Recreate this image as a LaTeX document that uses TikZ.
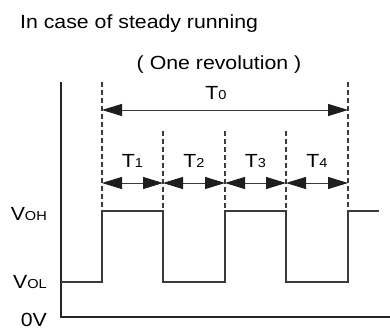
\documentclass[tikz,border=0pt]{standalone}
\usepackage{fontspec}
\setmainfont{Liberation Sans}[FakeStretch=1.12]
\usetikzlibrary{arrows.meta}
\definecolor{ln}{HTML}{3A3A3A}
\definecolor{ar}{HTML}{1E1E1E}
\tikzset{
  lbl/.style={inner sep=0pt, font=\fontsize{19}{22}\selectfont, text=black},
  sigline/.style={draw=ln, line width=1.4pt},
  axisline/.style={draw=black!85, line width=1.2pt},
  guide/.style={draw=ln, line width=1.2pt, dash pattern=on 5pt off 3pt},
  dim/.style={draw=ln, line width=1pt, {Triangle[length=20pt,width=12pt,color=ar]}-{Triangle[length=20pt,width=12pt,color=ar]}},
}
\newcommand{\smsub}[1]{{\fontsize{13}{15}\selectfont #1}}
\begin{document}
\begin{tikzpicture}[x=1pt,y=-1pt]
\useasboundingbox (0,0) rectangle (390,329);
% titles
\node[lbl, anchor=base west] (title) at (20,29) {In case of steady running};
\node[lbl, anchor=base] (rev) at (219,69) {(\kern6pt One revolution\kern6pt)};
% axes
\coordinate (ytop) at (61,82);
\coordinate (origin) at (61,317);
\coordinate (xend) at (390,317);
\draw[axisline] (ytop) -- (origin) -- (xend);
% guide coordinates
\coordinate (atop) at (102,82);  \coordinate (abot) at (102,211); \coordinate (alow) at (102,282); \coordinate (aarr) at (102,183); \coordinate (aT) at (102,110);
\coordinate (btop) at (163,131); \coordinate (bbot) at (163,211); \coordinate (blow) at (163,282); \coordinate (barr) at (163,183);
\coordinate (ctop) at (225,131); \coordinate (cbot) at (225,211); \coordinate (clow) at (225,282); \coordinate (carr) at (225,183);
\coordinate (dtop) at (286,131); \coordinate (dbot) at (286,211); \coordinate (dlow) at (286,282); \coordinate (darr) at (286,183);
\coordinate (etop) at (348,82);  \coordinate (ebot) at (348,211); \coordinate (elow) at (348,282); \coordinate (earr) at (348,183); \coordinate (eT) at (348,110);
\draw[guide] (atop) -- (abot);
\draw[guide] (btop) -- (bbot);
\draw[guide] (ctop) -- (cbot);
\draw[guide] (dtop) -- (dbot);
\draw[guide] (etop) -- (ebot);
% dimension arrows
\draw[dim] (aT) -- (eT);
\draw[dim] (aarr) -- (barr);
\draw[dim] (barr) -- (carr);
\draw[dim] (carr) -- (darr);
\draw[dim] (darr) -- (earr);
\node[lbl, anchor=base] (T0) at (216,99) {T\smsub{0}};
\node[lbl, anchor=base] (T1) at (132.5,167) {T\smsub{1}};
\node[lbl, anchor=base] (T2) at (194,167) {T\smsub{2}};
\node[lbl, anchor=base] (T3) at (255.5,167) {T\smsub{3}};
\node[lbl, anchor=base] (T4) at (317,167) {T\smsub{4}};
% signal
\coordinate (s0) at (61,282);
\coordinate (send) at (379,211);
\draw[sigline] (s0) -- (alow) -- (abot) -- (bbot) -- (blow) -- (clow) -- (cbot) -- (dbot) -- (dlow) -- (elow) -- (ebot) -- (send);
% level labels
\node[lbl, anchor=base east] (voh) at (47,220) {V\smsub{OH}};
\node[lbl, anchor=base east] (vol) at (47,288) {V\smsub{OL}};
\node[lbl, anchor=base east] (zero) at (47,326) {0V};
\end{tikzpicture}
\end{document}
